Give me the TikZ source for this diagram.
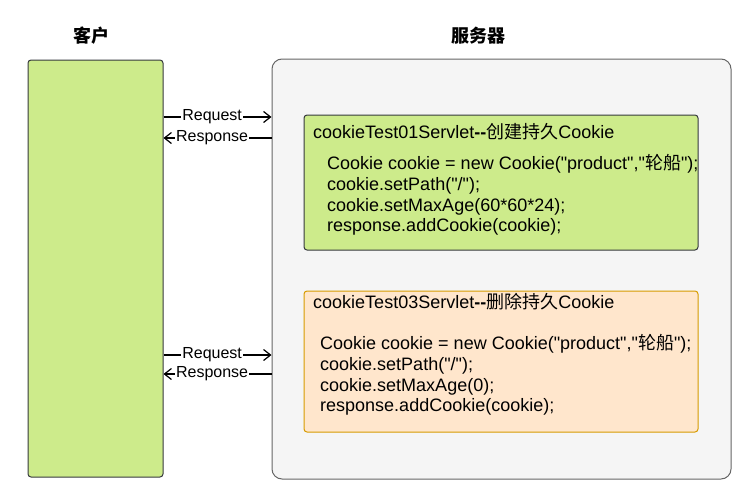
\documentclass[tikz,border=0pt]{standalone}
\usepackage{fontspec}
\setmainfont{Liberation Sans}[Ligatures=TeXOff]
\newfontfamily\cjk{Noto Sans CJK SC}
\usetikzlibrary{positioning,arrows.meta}

\definecolor{leafgreen}{HTML}{CDEB8B}
\definecolor{leafline}{HTML}{36393D}
\definecolor{srvfill}{HTML}{F5F5F5}
\definecolor{srvline}{HTML}{666666}
\definecolor{peach}{HTML}{FFE6CC}
\definecolor{peachline}{HTML}{D79B00}

\begin{document}
\begin{tikzpicture}[x=1pt, y=-1pt,
                    clientbox/.style={rectangle, rounded corners=3pt, draw=leafline, fill=leafgreen, line width=1pt, minimum width=135pt, minimum height=417pt},
                    serverbox/.style={rectangle, rounded corners=10pt, draw=srvline, fill=srvfill, line width=1pt, minimum width=459pt, minimum height=420pt},
                    servletbox/.style={rectangle, rounded corners=3pt, line width=1pt, minimum width=394pt},
                    headtext/.style={font=\fontsize{18}{21}\selectfont\bfseries},
                    codeline/.style={anchor=base west, inner sep=0pt, font=\fontsize{18}{21}\selectfont},
                    msg/.style={line width=1.2pt, -{Straight Barb[length=7pt, width=11pt]}},
                    msglabel/.style={fill=white, inner sep=1pt, font=\fontsize{16}{19}\selectfont},
                ]
                    \useasboundingbox (0,0) rectangle (738,498);

                    %Nodes
                    \node[clientbox](client) at (95.5,268.5) {};
                    \node[serverbox](server) at (501.5,269) {};
                    \node[headtext](clienthead) at (91,36) {\cjk 客户};
                    \node[headtext](serverhead) at (478,36) {\cjk 服务器};

                    \node[servletbox, draw=leafline, fill=leafgreen, minimum height=135pt](create) at (501,182.5) {};
                    \node[codeline](createtitle) at (313,138.5) {cookieTest01Servlet\textbf{--}{\cjk 创建持久}Cookie};
                    \node[codeline](createa) at (327,169.5) {Cookie cookie = new Cookie("product","{\cjk 轮船}");};
                    \node[codeline](createb) at (327,190.25) {cookie.setPath("/");};
                    \node[codeline](createc) at (327,211) {cookie.setMaxAge(60*60*24);};
                    \node[codeline](created) at (327,231.75) {response.addCookie(cookie);};

                    \node[servletbox, draw=peachline, fill=peach, minimum height=141pt](remove) at (501,361.5) {};
                    \node[codeline](removetitle) at (313,308.5) {cookieTest03Servlet\textbf{--}{\cjk 删除持久}Cookie};
                    \node[codeline](removea) at (320,349.5) {Cookie cookie = new Cookie("product","{\cjk 轮船}");};
                    \node[codeline](removeb) at (320,370.25) {cookie.setPath("/");};
                    \node[codeline](removec) at (320,391) {cookie.setMaxAge(0);};
                    \node[codeline](removed) at (320,411.75) {response.addCookie(cookie);};

                    %Lines
                    \draw[msg](client.east |- 0,117) -- node[msglabel, pos=0.45]{Request} (server.west |- 0,117);
                    \draw[msg](server.west |- 0,138) -- node[msglabel, pos=0.55]{Response} (client.east |- 0,138);
                    \draw[msg](client.east |- 0,355) -- node[msglabel, pos=0.45]{Request} (server.west |- 0,355);
                    \draw[msg](server.west |- 0,374) -- node[msglabel, pos=0.55]{Response} (client.east |- 0,374);
                \end{tikzpicture}
\end{document}
